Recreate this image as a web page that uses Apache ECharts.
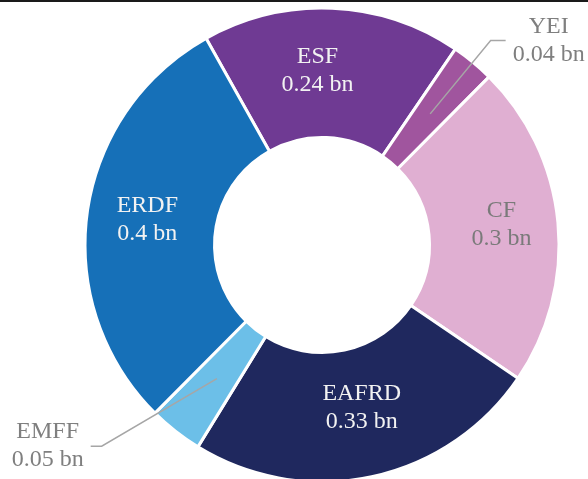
<!DOCTYPE html>
<html><head><meta charset="utf-8">
<script src="https://cdn.jsdelivr.net/npm/echarts@6/dist/echarts.min.js"></script>
<style>html,body{margin:0;padding:0;background:#fff}#c{width:588px;height:479px}</style>
</head><body><div id="c"></div>
<script>
const categories = ['ESF', 'YEI', 'CF', 'EAFRD', 'EMFF', 'ERDF'];
const values = [0.24, 0.04, 0.3, 0.33, 0.05, 0.4];
const unit = ' bn';
const colors = ['#6F3A93', '#A0559E', '#E0AFD2', '#1F285E', '#6CBFE8', '#1670B8'];
const outsideLabels = ['YEI', 'EMFF'];
const insideTextColor = {ESF: '#f2f2f2', CF: '#7a7a7a', EAFRD: '#f2f2f2', ERDF: '#f2f2f2'};
const insideShift = {ESF: [-12, 1], CF: [5, -4], EAFRD: [3, -9], ERDF: [-1, -2]};
const lineLen = {YEI: [95, 15], EMFF: [86, 73]};
const elbowFromEnd = {EMFF: 11};

const font = 'Liberation Serif';
const chart = echarts.init(document.getElementById('c'));
const center = [322, 245];
const startAngle = 119.3;

const ringData = categories.map((n, i) => ({
  name: n, value: values[i],
  itemStyle: {color: colors[i]},
  label: outsideLabels.includes(n) ? {show: false} : {show: true, color: insideTextColor[n]}
}));
const ghostData = categories.map((n, i) => {
  const out = outsideLabels.includes(n);
  return {
    name: n, value: values[i],
    label: {show: out},
    labelLine: out ? {show: true, length: lineLen[n][0], length2: lineLen[n][1]} : {show: false}
  };
});

chart.setOption({
  animation: false,
  graphic: [{type: 'rect', shape: {x: 0, y: 0, width: 588, height: 2}, style: {fill: '#1a1a1a'}}],
  series: [{
    type: 'pie', center: center, radius: [107.5, 237], startAngle: startAngle, clockwise: true,
    avoidLabelOverlap: false, silent: true, z: 2,
    itemStyle: {borderColor: '#fff', borderWidth: 3},
    label: {position: 'inside', fontFamily: font, fontSize: 24, lineHeight: 28, align: 'center',
      formatter: p => p.name + '\n' + p.value + unit},
    labelLayout: p => {
      const s = insideShift[categories[p.dataIndex]];
      return s ? {dx: s[0], dy: s[1]} : {};
    },
    emphasis: {disabled: true},
    data: ringData
  }, {
    type: 'pie', center: center, radius: [0, 170], startAngle: startAngle, clockwise: true,
    avoidLabelOverlap: false, silent: true, z: 5,
    itemStyle: {color: 'rgba(0,0,0,0)', borderWidth: 0},
    label: {position: 'outside', fontFamily: font, fontSize: 24, lineHeight: 28, color: '#7f7f7f',
      distanceToLabelLine: 6,
      formatter: p => '{a|' + p.name + '}\n{a|' + p.value + unit + '}',
      rich: {a: {width: 74, align: 'center', fontFamily: font, fontSize: 24, lineHeight: 28, color: '#7f7f7f'}}},
    labelLine: {lineStyle: {color: '#a6a6a6', width: 1.5}},
    labelLayout: p => {
      const e = elbowFromEnd[categories[p.dataIndex]];
      const pts = p.labelLinePoints;
      if (e == null || !pts || pts.length < 3) return {};
      const end = pts[2];
      const dir = end[0] < pts[0][0] ? 1 : -1;
      return {labelLinePoints: [pts[0].slice(), [end[0] + dir * e, end[1]], end.slice()]};
    },
    emphasis: {disabled: true},
    data: ghostData
  }]
});
</script></body></html>
